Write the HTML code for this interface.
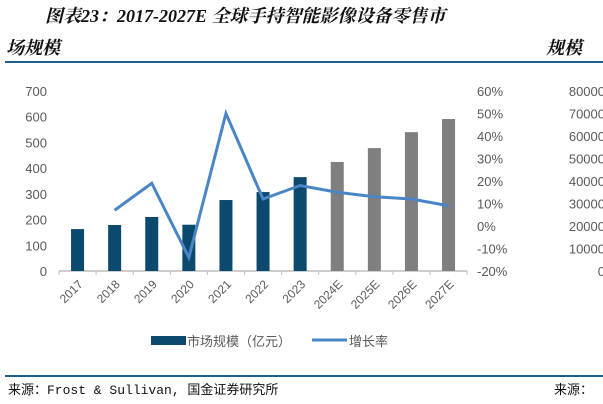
<!DOCTYPE html>
<html><head><meta charset="utf-8"><style>
body{margin:0;width:603px;height:404px;overflow:hidden;background:#fff;font-family:"Liberation Sans","Noto Sans CJK SC",sans-serif}
svg{display:block}
</style></head><body>
<svg width="603" height="404">
<text x="45" y="22" font-size="18" font-weight="bold" font-style="italic" font-family="'Liberation Serif','Noto Serif CJK SC',serif" fill="#111">图表23：2017-2027E 全球手持智能影像设备零售市</text>
<text x="6" y="54" font-size="18" font-weight="bold" font-style="italic" font-family="'Liberation Serif','Noto Serif CJK SC',serif" fill="#111">场规模</text>
<text x="546" y="54" font-size="18" font-weight="bold" font-style="italic" font-family="'Liberation Serif','Noto Serif CJK SC',serif" fill="#111">规模</text>
<line x1="5" y1="62" x2="603" y2="62" stroke="#1f5f8b" stroke-width="2"/>
<g id="plot"></g>
<line x1="5" y1="376" x2="603" y2="376" stroke="#1f5f8b" stroke-width="2"/>
<text x="8" y="394" font-size="13" font-family="'Liberation Mono','Noto Sans CJK SC',monospace" fill="#111">来源：Frost &amp; Sullivan, 国金证券研究所</text>
<text x="554" y="394" font-size="13" font-family="'Liberation Mono','Noto Sans CJK SC',monospace" fill="#111">来源：</text>
</svg>
<script>
const categories=["2017","2018","2019","2020","2021","2022","2023","2024E","2025E","2026E","2027E"];
const marketSize=[163,179,210,180,276,307,365,424,478,540,591];
const growthRate=[null,7,19,-14,50,12,18,15,13,12,9];
const leftTicks=[0,100,200,300,400,500,600,700];
const rightTicks=[-20,-10,0,10,20,30,40,50,60];
const sideTicks=[0,10000,20000,30000,40000,50000,60000,70000,80000];
const forecastStart=7;

const NS="http://www.w3.org/2000/svg";
const g=document.getElementById('plot');
const x0=59,step=37.1,yB=271,yT=91;
const xC=i=>x0+step*(i+0.5);
const yL=v=>yB-(v-0)/(700-0)*(yB-yT);
const yR=v=>yB-(v+20)/80*(yB-yT);
function mk(t,a){const e=document.createElementNS(NS,t);for(const k in a)e.setAttribute(k,a[k]);g.appendChild(e);return e;}
leftTicks.forEach(v=>{const t=mk('text',{x:47,y:yL(v)+5,'text-anchor':'end','font-size':13,fill:'#595959'});t.textContent=v;

});
rightTicks.forEach(v=>{const t=mk('text',{x:477,y:yR(v)+5,'font-size':13,fill:'#595959'});t.textContent=v+'%';

});
sideTicks.forEach((v,i)=>{const t=mk('text',{x:605,y:yB-i*(yB-yT)/8+5,'text-anchor':'end','font-size':13,fill:'#595959'});t.textContent=v;

});
const ax=mk('line',{x1:x0,y1:yB,x2:x0+step*11,y2:yB,stroke:'#bfbfbf','stroke-width':1.5});


for(let i=0;i<=11;i++){const tk=mk('line',{x1:x0+step*i,y1:yB,x2:x0+step*i,y2:yB+4,stroke:'#bfbfbf'});

}
categories.forEach((c,i)=>{
const b=mk('rect',{x:xC(i)-6.5,y:yL(marketSize[i]),width:13,height:yB-yL(marketSize[i]),fill:i>=forecastStart?'#7f7f7f':'#0b4a6e'});


const t=mk('text',{x:xC(i)+6,y:yB+14,'text-anchor':'end','font-size':12,fill:'#595959',transform:`rotate(-45 ${xC(i)+6} ${yB+14})`});t.textContent=c;

});
let d='';growthRate.forEach((v,i)=>{if(v===null)return;d+=(d?'L':'M')+xC(i)+' '+yR(v)+' ';});
const ln=mk('path',{d:d,fill:'none',stroke:'#4a86c5','stroke-width':3,'stroke-linejoin':'miter'});


const lb=mk('rect',{x:151,y:336,width:35,height:9,fill:'#0b4a6e'});


const lt=mk('text',{x:187,y:346,'font-size':13,fill:'#595959'});lt.textContent='市场规模（亿元）';


const ll=mk('line',{x1:312,y1:340,x2:347,y2:340,stroke:'#4a86c5','stroke-width':3});


const lt2=mk('text',{x:349,y:346,'font-size':13,fill:'#595959'});lt2.textContent='增长率';


</script>
</body></html>
